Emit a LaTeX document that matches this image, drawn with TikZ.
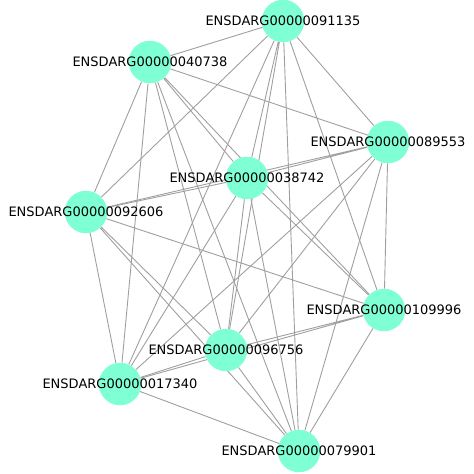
\documentclass[tikz,border=0pt]{standalone}
\usepackage{fontspec}
\setmainfont{DejaVu Sans}
\usetikzlibrary{backgrounds}
\definecolor{aqua}{HTML}{7FFFD4}

\begin{document}
\begin{tikzpicture}[x=1pt,y=-1pt,
    gene/.style={circle,fill=aqua,minimum size=42.5pt,inner sep=0pt},
    link/.style={draw=gray!75,line width=0.9pt},
    every label/.style={font=\fontsize{13}{15}\selectfont,text=black,inner sep=0pt}]
    \useasboundingbox (0,0) rectangle (474,474);

    % Genes
    \node[gene,label={center:ENSDARG00000091135}] (n91135) at (283,21) {};
    \node[gene,label={center:ENSDARG00000040738}] (n40738) at (150,62) {};
    \node[gene,label={center:ENSDARG00000089553}] (n89553) at (388,142) {};
    \node[gene,label={center:ENSDARG00000038742}] (n38742) at (247,178) {};
    \node[gene,label={center:ENSDARG00000092606}] (n92606) at (86,212) {};
    \node[gene,label={center:ENSDARG00000109996}] (n109996) at (384,310) {};
    \node[gene,label={center:ENSDARG00000096756}] (n96756) at (226,350) {};
    \node[gene,label={center:ENSDARG00000017340}] (n17340) at (120,384) {};
    \node[gene,label={center:ENSDARG00000079901}] (n79901) at (299,451) {};

    % Links, behind the genes
    \begin{scope}[on background layer]
    \draw[link] (n91135) -- (n40738) (n91135) -- (n89553) (n91135) -- (n38742)
        (n91135) -- (n92606) (n91135) -- (n109996) (n91135) -- (n96756)
        (n91135) -- (n17340) (n91135) -- (n79901);
    \draw[link] (n40738) -- (n89553) (n40738) -- (n38742) (n40738) -- (n92606)
        (n40738) -- (n109996) (n40738) -- (n96756) (n40738) -- (n17340)
        (n40738) -- (n79901);
    \draw[link] (n89553) -- (n38742) (n89553) -- (n92606) (n89553) -- (n109996)
        (n89553) -- (n96756) (n89553) -- (n17340) (n89553) -- (n79901);
    \draw[link] (n38742) -- (n92606) (n38742) -- (n109996) (n38742) -- (n96756)
        (n38742) -- (n17340) (n38742) -- (n79901);
    \draw[link] (n92606) -- (n109996) (n92606) -- (n96756) (n92606) -- (n17340)
        (n92606) -- (n79901);
    \draw[link] (n109996) -- (n96756) (n109996) -- (n17340) (n109996) -- (n79901);
    \draw[link] (n96756) -- (n17340) (n96756) -- (n79901);
    \draw[link] (n17340) -- (n79901);
    \end{scope}
\end{tikzpicture}
\end{document}
